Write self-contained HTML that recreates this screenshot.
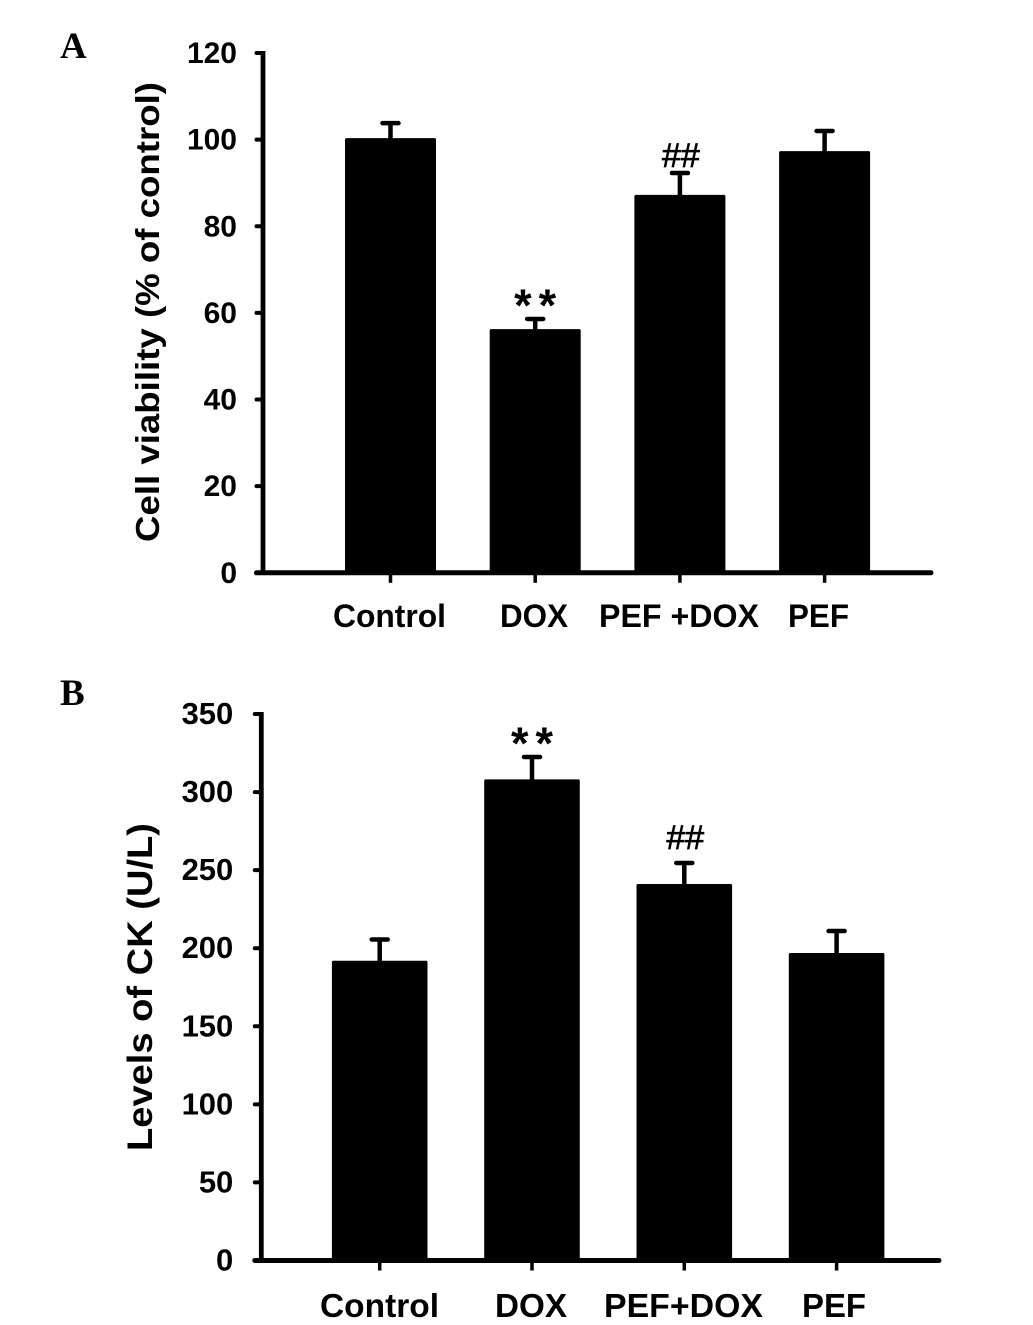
<!DOCTYPE html>
<html lang="en">
<head>
<meta charset="utf-8">
<title>Cell viability and CK levels</title>
<style>
html,body{margin:0;padding:0;background:#fff;}
svg{display:block;}
text{font-family:"Liberation Sans",Arial,sans-serif;font-weight:bold;fill:#000;}
</style>
</head>
<body>
<svg id="figure" xmlns="http://www.w3.org/2000/svg" width="1033" height="1325" viewBox="0 0 1033 1325"></svg>
<script>
var categoriesA = ['Control', 'DOX', 'PEF +DOX', 'PEF'];
var valuesA = [100, 55.9, 86.9, 97];
var errorsA = [3.8, 2.7, 5.4, 5];
var marksA = ['', '**', '##', ''];
var ticksA = [0, 20, 40, 60, 80, 100, 120];

var categoriesB = ['Control', 'DOX', 'PEF+DOX', 'PEF'];
var valuesB = [191, 307.2, 240.2, 196];
var errorsB = [14.6, 15.3, 14.4, 15];
var marksB = ['', '**', '##', ''];
var ticksB = [0, 50, 100, 150, 200, 250, 300, 350];

var NS = 'http://www.w3.org/2000/svg';
var root = document.getElementById('figure');

function make(parent, tag, attrs, content) {
  var el = document.createElementNS(NS, tag);
  for (var k in attrs) { el.setAttribute(k, attrs[k]); }
  if (content !== undefined) { el.textContent = content; }
  parent.appendChild(el);
  return el;
}

function drawPanel(cfg) {
  var g = make(root, 'g', {});
  
  

  function yScale(v) { return cfg.y0 + (cfg.yTop - cfg.y0) * v / cfg.yMax; }
  function xScale(i) { return cfg.x0 + cfg.step * i; }

  var panelLabel = make(g, 'text', {x: cfg.letterX, y: cfg.letterY, 'font-size': 37, style: 'font-family:"Liberation Serif",serif'}, cfg.letter);
  
  

  var yTitle = make(g, 'text', {
    transform: 'translate(' + cfg.titleX + ',' + cfg.titleY + ') rotate(-90)',
    'text-anchor': 'middle', 'font-size': cfg.titleSize,
    textLength: cfg.titleLen, lengthAdjust: 'spacingAndGlyphs'
  }, cfg.title);
  
  

  cfg.ticks.forEach(function (t) {
    var y = yScale(t);
    var tick = make(g, 'line', {x1: cfg.axisX - 6.5, x2: cfg.axisX, y1: y, y2: y, stroke: '#000', 'stroke-width': 4, 'stroke-linecap': 'round'});
    
    
    var label = make(g, 'text', {x: cfg.axisX - cfg.tickGap, y: y + 10, 'text-anchor': 'end', 'font-size': cfg.tickSize}, String(t));
    
    
  });

  cfg.categories.forEach(function (c, i) {
    var cx = xScale(i);
    var v = cfg.values[i];
    var top = yScale(v);
    var errTop = yScale(v + cfg.errors[i]);

    var stem = make(g, 'line', {x1: cx, x2: cx, y1: top, y2: errTop, stroke: '#000', 'stroke-width': 4.5});
    
    
    var cap = make(g, 'line', {x1: cx - 8, x2: cx + 8, y1: errTop, y2: errTop, stroke: '#000', 'stroke-width': 4.5, 'stroke-linecap': 'round'});
    
    

    var bar = make(g, 'rect', {x: cx - cfg.barW / 2, y: top - 1.5, width: cfg.barW, height: cfg.y0 - top + 1.5, rx: 1.5, fill: '#000'});
    
    

    var xt = make(g, 'line', {x1: cx, x2: cx, y1: cfg.y0, y2: cfg.y0 + 10, stroke: '#000', 'stroke-width': 3.5});
    
    

    var lab = make(g, 'text', {
      x: cfg.labelX[i], y: cfg.labelY, 'text-anchor': 'middle', 'font-size': cfg.labelSize,
      textLength: cfg.labelLen[i], lengthAdjust: 'spacingAndGlyphs'
    }, c);
    
    

    if (cfg.marks[i] === '**') {
      var star = make(g, 'text', {x: cx + 3.5, y: errTop + 2, 'text-anchor': 'middle', 'font-size': 45, 'letter-spacing': 7}, '**');
      
      
    } else if (cfg.marks[i] === '##') {
      var hash = make(g, 'text', {x: cx + 1, y: errTop - cfg.hashGap, 'text-anchor': 'middle', 'font-size': 34, style: 'font-weight:normal', stroke: '#000', 'stroke-width': 0.7}, '##');
      
      
    }
  });

  var yAxis = make(g, 'line', {x1: cfg.axisX, x2: cfg.axisX, y1: cfg.yTop - 2, y2: cfg.y0 + 2, stroke: '#000', 'stroke-width': 4.8});
  
  
  var xAxis = make(g, 'line', {x1: cfg.axisX - 6.5, x2: cfg.xEnd, y1: cfg.y0, y2: cfg.y0, stroke: '#000', 'stroke-width': 5, 'stroke-linecap': 'round'});
  
  
}

drawPanel({
  name: 'panel-a-chart', letter: 'A', letterX: 60, letterY: 58,
  title: 'Cell viability (% of control)', titleX: 159, titleY: 312, titleSize: 33, titleLen: 460,
  categories: categoriesA, values: valuesA, errors: errorsA, marks: marksA, ticks: ticksA,
  yMax: 120, y0: 572.8, yTop: 53, axisX: 263, xEnd: 931, tickSize: 30, tickGap: 26, hashGap: 6,
  x0: 390.5, step: 144.7, barW: 91,
  labelX: [389.5, 534, 679, 818.5], labelLen: [113, 68, 160, 61], labelSize: 32, labelY: 627
});

drawPanel({
  name: 'panel-b-chart', letter: 'B', letterX: 60, letterY: 705,
  title: 'Levels of CK (U/L)', titleX: 152, titleY: 987, titleSize: 35, titleLen: 328,
  categories: categoriesB, values: valuesB, errors: errorsB, marks: marksB, ticks: ticksB,
  yMax: 350, y0: 1260.5, yTop: 714, axisX: 261.3, xEnd: 939, tickSize: 31, tickGap: 28, hashGap: 14,
  x0: 379.7, step: 152.3, barW: 95.6,
  labelX: [379.5, 531, 683.5, 834], labelLen: [119, 72, 159, 64], labelSize: 33.5, labelY: 1317
});
</script>
</body>
</html>
